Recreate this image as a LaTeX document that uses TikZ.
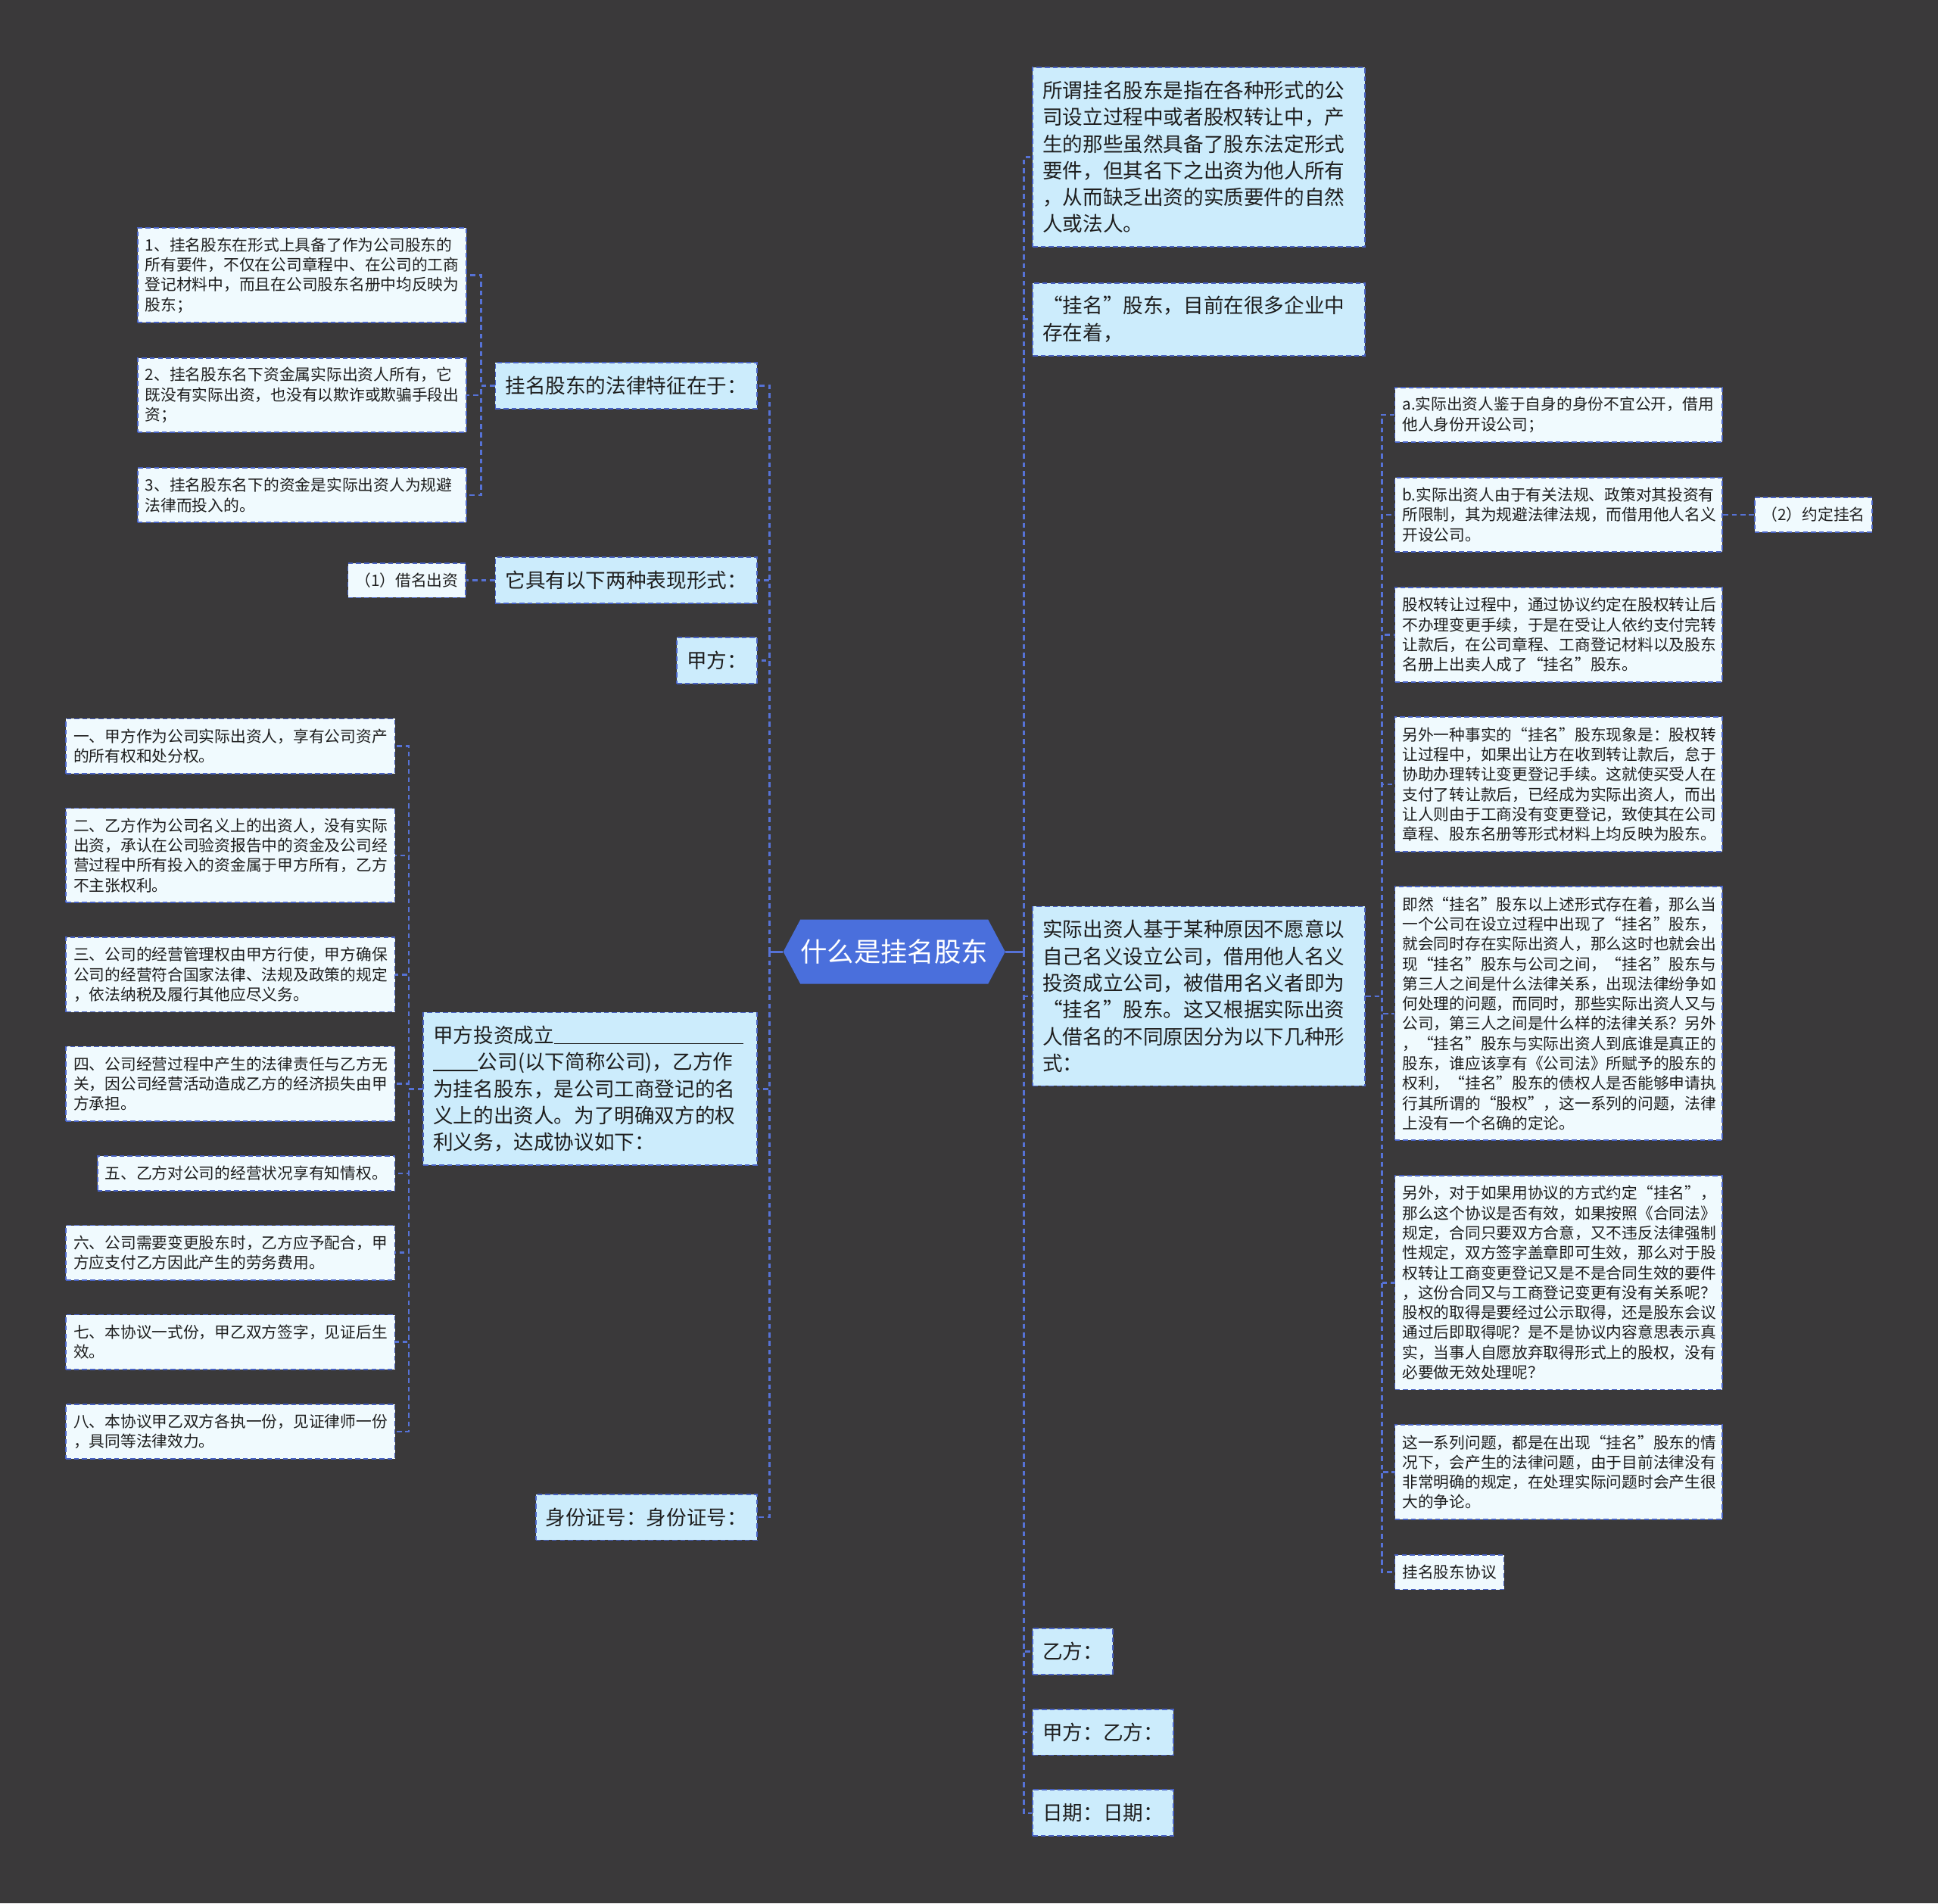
\documentclass[tikz,border=0pt]{standalone}
\usepackage{fontspec}
\newfontfamily\cjk{Noto Sans CJK SC}
\usetikzlibrary{positioning,shapes.symbols}
\definecolor{canvas}{RGB}{58,57,58}
\definecolor{wire}{RGB}{86,114,214}
\definecolor{rim}{RGB}{72,98,196}
\definecolor{sky}{RGB}{204,236,252}
\definecolor{mist}{RGB}{240,250,254}
\definecolor{royal}{RGB}{74,111,220}
\definecolor{ink}{RGB}{30,30,30}

\begin{document}
\begin{tikzpicture}[x=1pt,y=-1pt,node distance=27pt,
  topic/.style={rectangle,draw=rim,line width=1.1pt,dash pattern=on 4pt off 2.5pt,fill=sky,text=ink,
    font=\cjk\fontsize{16.3}{21.6}\selectfont,inner xsep=8pt,inner ysep=2pt,align=left,
    minimum height={21.6pt*#1+15.6pt}},
  topic/.default=1,
  leaf/.style={rectangle,draw=rim,line width=1.1pt,dash pattern=on 4pt off 2.5pt,fill=mist,text=ink,
    font=\cjk\fontsize{12.7}{16.1}\selectfont,inner xsep=6pt,inner ysep=2pt,align=left,
    minimum height={16.1pt*#1+12pt}},
  leaf/.default=1,
  hub/.style={signal,signal to=west and east,signal pointer angle=124,fill=royal,text=white,
    font=\cjk\fontsize{21.7}{26}\selectfont,minimum width=173pt,minimum height=52pt,inner sep=0pt},
  link/.style={draw=wire,line width=1.5pt,dash pattern=on 4pt off 3pt},
  stem/.style={draw=wire,line width=1.8pt}]
\fill[canvas] (0,0) rectangle (1568,1540);
\node[hub] (hub) at (723.5,770) {什么是挂名股东};
\coordinate (lt) at ([xshift=-11pt]hub.west);
\coordinate (rt) at ([xshift=15pt]hub.east);

\node[topic=6,text width=253pt,anchor=north west] (meaning) at (835,54) {所谓挂名股东是指在各种形式的公\\司设立过程中或者股权转让中，产\\生的那些虽然具备了股东法定形式\\要件，但其名下之出资为他人所有\\，从而缺乏出资的实质要件的自然\\人或法人。};
\node[topic=2,text width=253pt,below=28pt of meaning] (naming) {“挂名”股东，目前在很多企业中\\存在着，};
\node[topic=6,text width=253pt,anchor=west] (cause) at (835,806) {实际出资人基于某种原因不愿意以\\自己名义设立公司，借用他人名义\\投资成立公司，被借用名义者即为\\“挂名”股东。这又根据实际出资\\人借名的不同原因分为以下几种形\\式：};
\node[topic,anchor=north west] (yi) at (835,1317) {乙方：};
\node[topic,below=27pt of yi.south west,anchor=north west] (jiayi) {甲方：乙方：};
\node[topic,below=27pt of jiayi.south west,anchor=north west] (date) {日期：日期：};

\node[leaf=2,text width=253pt,anchor=north west] (hide) at (1128,313) {a.实际出资人鉴于自身的身份不宜公开，借用\\他人身份开设公司；};
\node[leaf=3,text width=253pt,below=27.5pt of hide] (limit) {b.实际出资人由于有关法规、政策对其投资有\\所限制，其为规避法律法规，而借用他人名义\\开设公司。};
\node[leaf=4,text width=253pt,below=27.5pt of limit] (transfer) {股权转让过程中，通过协议约定在股权转让后\\不办理变更手续，于是在受让人依约支付完转\\让款后，在公司章程、工商登记材料以及股东\\名册上出卖人成了“挂名”股东。};
\node[leaf=6,text width=253pt,below=27.5pt of transfer] (delay) {另外一种事实的“挂名”股东现象是：股权转\\让过程中，如果出让方在收到转让款后，怠于\\协助办理转让变更登记手续。这就使买受人在\\支付了转让款后，已经成为实际出资人，而出\\让人则由于工商没有变更登记，致使其在公司\\章程、股东名册等形式材料上均反映为股东。};
\node[leaf=12,text width=253pt,below=27.5pt of delay] (puzzle) {即然“挂名”股东以上述形式存在着，那么当\\一个公司在设立过程中出现了“挂名”股东，\\就会同时存在实际出资人，那么这时也就会出\\现“挂名”股东与公司之间，“挂名”股东与\\第三人之间是什么法律关系，出现法律纷争如\\何处理的问题，而同时，那些实际出资人又与\\公司，第三人之间是什么样的法律关系？另外\\，“挂名”股东与实际出资人到底谁是真正的\\股东，谁应该享有《公司法》所赋予的股东的\\权利，“挂名”股东的债权人是否能够申请执\\行其所谓的“股权”，这一系列的问题，法律\\上没有一个名确的定论。};
\node[leaf=10,text width=253pt,below=27.5pt of puzzle] (pact) {另外，对于如果用协议的方式约定“挂名”，\\那么这个协议是否有效，如果按照《合同法》\\规定，合同只要双方合意，又不违反法律强制\\性规定，双方签字盖章即可生效，那么对于股\\权转让工商变更登记又是不是合同生效的要件\\，这份合同又与工商登记变更有没有关系呢？\\股权的取得是要经过公示取得，还是股东会议\\通过后即取得呢？是不是协议内容意思表示真\\实，当事人自愿放弃取得形式上的股权，没有\\必要做无效处理呢？};
\node[leaf=4,text width=253pt,below=27.5pt of pact] (debate) {这一系列问题，都是在出现“挂名”股东的情\\况下，会产生的法律问题，由于目前法律没有\\非常明确的规定，在处理实际问题时会产生很\\大的争论。};
\node[leaf,below=27.5pt of debate.south west,anchor=north west] (sample) {挂名股东协议};
\node[leaf,minimum width=94pt,right=25pt of limit] (agreed) {（2）约定挂名};

\node[topic,anchor=east] (law) at (613,312) {挂名股东的法律特征在于：};
\node[topic,anchor=east] (forms) at (613,469.5) {它具有以下两种表现形式：};
\node[topic,anchor=east] (jia) at (613,534.5) {甲方：};
\node[topic=5,text width=254pt,anchor=east] (deal) at (613,881) {甲方投资成立\rule[-1pt]{153pt}{0.8pt}\\\rule[-1pt]{36pt}{0.8pt}公司(以下简称公司)，乙方作\\为挂名股东，是公司工商登记的名\\义上的出资人。为了明确双方的权\\利义务，达成协议如下：};
\node[topic,anchor=east] (idno) at (613,1227.5) {身份证号：身份证号：};

\node[leaf=4,text width=254pt,anchor=north east] (law1) at (378,184) {1、挂名股东在形式上具备了作为公司股东的\\所有要件，不仅在公司章程中、在公司的工商\\登记材料中，而且在公司股东名册中均反映为\\股东；};
\node[leaf=3,text width=254pt,below=27.5pt of law1] (law2) {2、挂名股东名下资金属实际出资人所有，它\\既没有实际出资，也没有以欺诈或欺骗手段出\\资；};
\node[leaf=2,text width=254pt,below=27.5pt of law2] (law3) {3、挂名股东名下的资金是实际出资人为规避\\法律而投入的。};
\node[leaf,minimum width=95pt,left=23pt of forms] (borrow) {（1）借名出资};

\node[leaf=2,text width=254pt,anchor=north east] (art1) at (320,581) {一、甲方作为公司实际出资人，享有公司资产\\的所有权和处分权。};
\node[leaf=4,text width=254pt,below=27pt of art1] (art2) {二、乙方作为公司名义上的出资人，没有实际\\出资，承认在公司验资报告中的资金及公司经\\营过程中所有投入的资金属于甲方所有，乙方\\不主张权利。};
\node[leaf=3,text width=254pt,below=27pt of art2] (art3) {三、公司的经营管理权由甲方行使，甲方确保\\公司的经营符合国家法律、法规及政策的规定\\，依法纳税及履行其他应尽义务。};
\node[leaf=3,text width=254pt,below=27pt of art3] (art4) {四、公司经营过程中产生的法律责任与乙方无\\关，因公司经营活动造成乙方的经济损失由甲\\方承担。};
\node[leaf,below=27pt of art4.south east,anchor=north east] (art5) {五、乙方对公司的经营状况享有知情权。};
\node[leaf=2,text width=254pt,below=27pt of art5.south east,anchor=north east] (art6) {六、公司需要变更股东时，乙方应予配合，甲\\方应支付乙方因此产生的劳务费用。};
\node[leaf=2,text width=254pt,below=27pt of art6] (art7) {七、本协议一式份，甲乙双方签字，见证后生\\效。};
\node[leaf=2,text width=254pt,below=27pt of art7] (art8) {八、本协议甲乙双方各执一份，见证律师一份\\，具同等法律效力。};

\draw[stem] (hub.west) -- (lt);
\draw[stem] (hub.east) -- (rt);
\draw[link] (lt) |- (law);
\draw[link] (lt) |- (forms);
\draw[link] (lt) |- (jia);
\draw[link] (lt) |- (deal);
\draw[link] (lt) |- (idno);
\draw[link] (rt) |- (meaning);
\draw[link] (rt) |- (naming);
\draw[link] (rt) |- (cause);
\draw[link] (rt) |- (yi);
\draw[link] (rt) |- (jiayi);
\draw[link] (rt) |- (date);
\draw[link] (law.west) -- ++(-11,0) |- (law1);
\draw[link] (law.west) -- ++(-11,0) |- (law2);
\draw[link] (law.west) -- ++(-11,0) |- (law3);
\draw[link] (forms) -- (borrow);
\draw[link] (deal.west) -- ++(-11,0) |- (art1);
\draw[link] (deal.west) -- ++(-11,0) |- (art2);
\draw[link] (deal.west) -- ++(-11,0) |- (art3);
\draw[link] (deal.west) -- ++(-11,0) |- (art4);
\draw[link] (deal.west) -- ++(-11,0) |- (art5);
\draw[link] (deal.west) -- ++(-11,0) |- (art6);
\draw[link] (deal.west) -- ++(-11,0) |- (art7);
\draw[link] (deal.west) -- ++(-11,0) |- (art8);
\draw[link] (cause.east) -- ++(13,0) |- (hide);
\draw[link] (cause.east) -- ++(13,0) |- (limit);
\draw[link] (cause.east) -- ++(13,0) |- (transfer);
\draw[link] (cause.east) -- ++(13,0) |- (delay);
\draw[link] (cause.east) -- ++(13,0) |- (puzzle);
\draw[link] (cause.east) -- ++(13,0) |- (pact);
\draw[link] (cause.east) -- ++(13,0) |- (debate);
\draw[link] (cause.east) -- ++(13,0) |- (sample);
\draw[link] (limit) -- (agreed);
\end{tikzpicture}
\end{document}
